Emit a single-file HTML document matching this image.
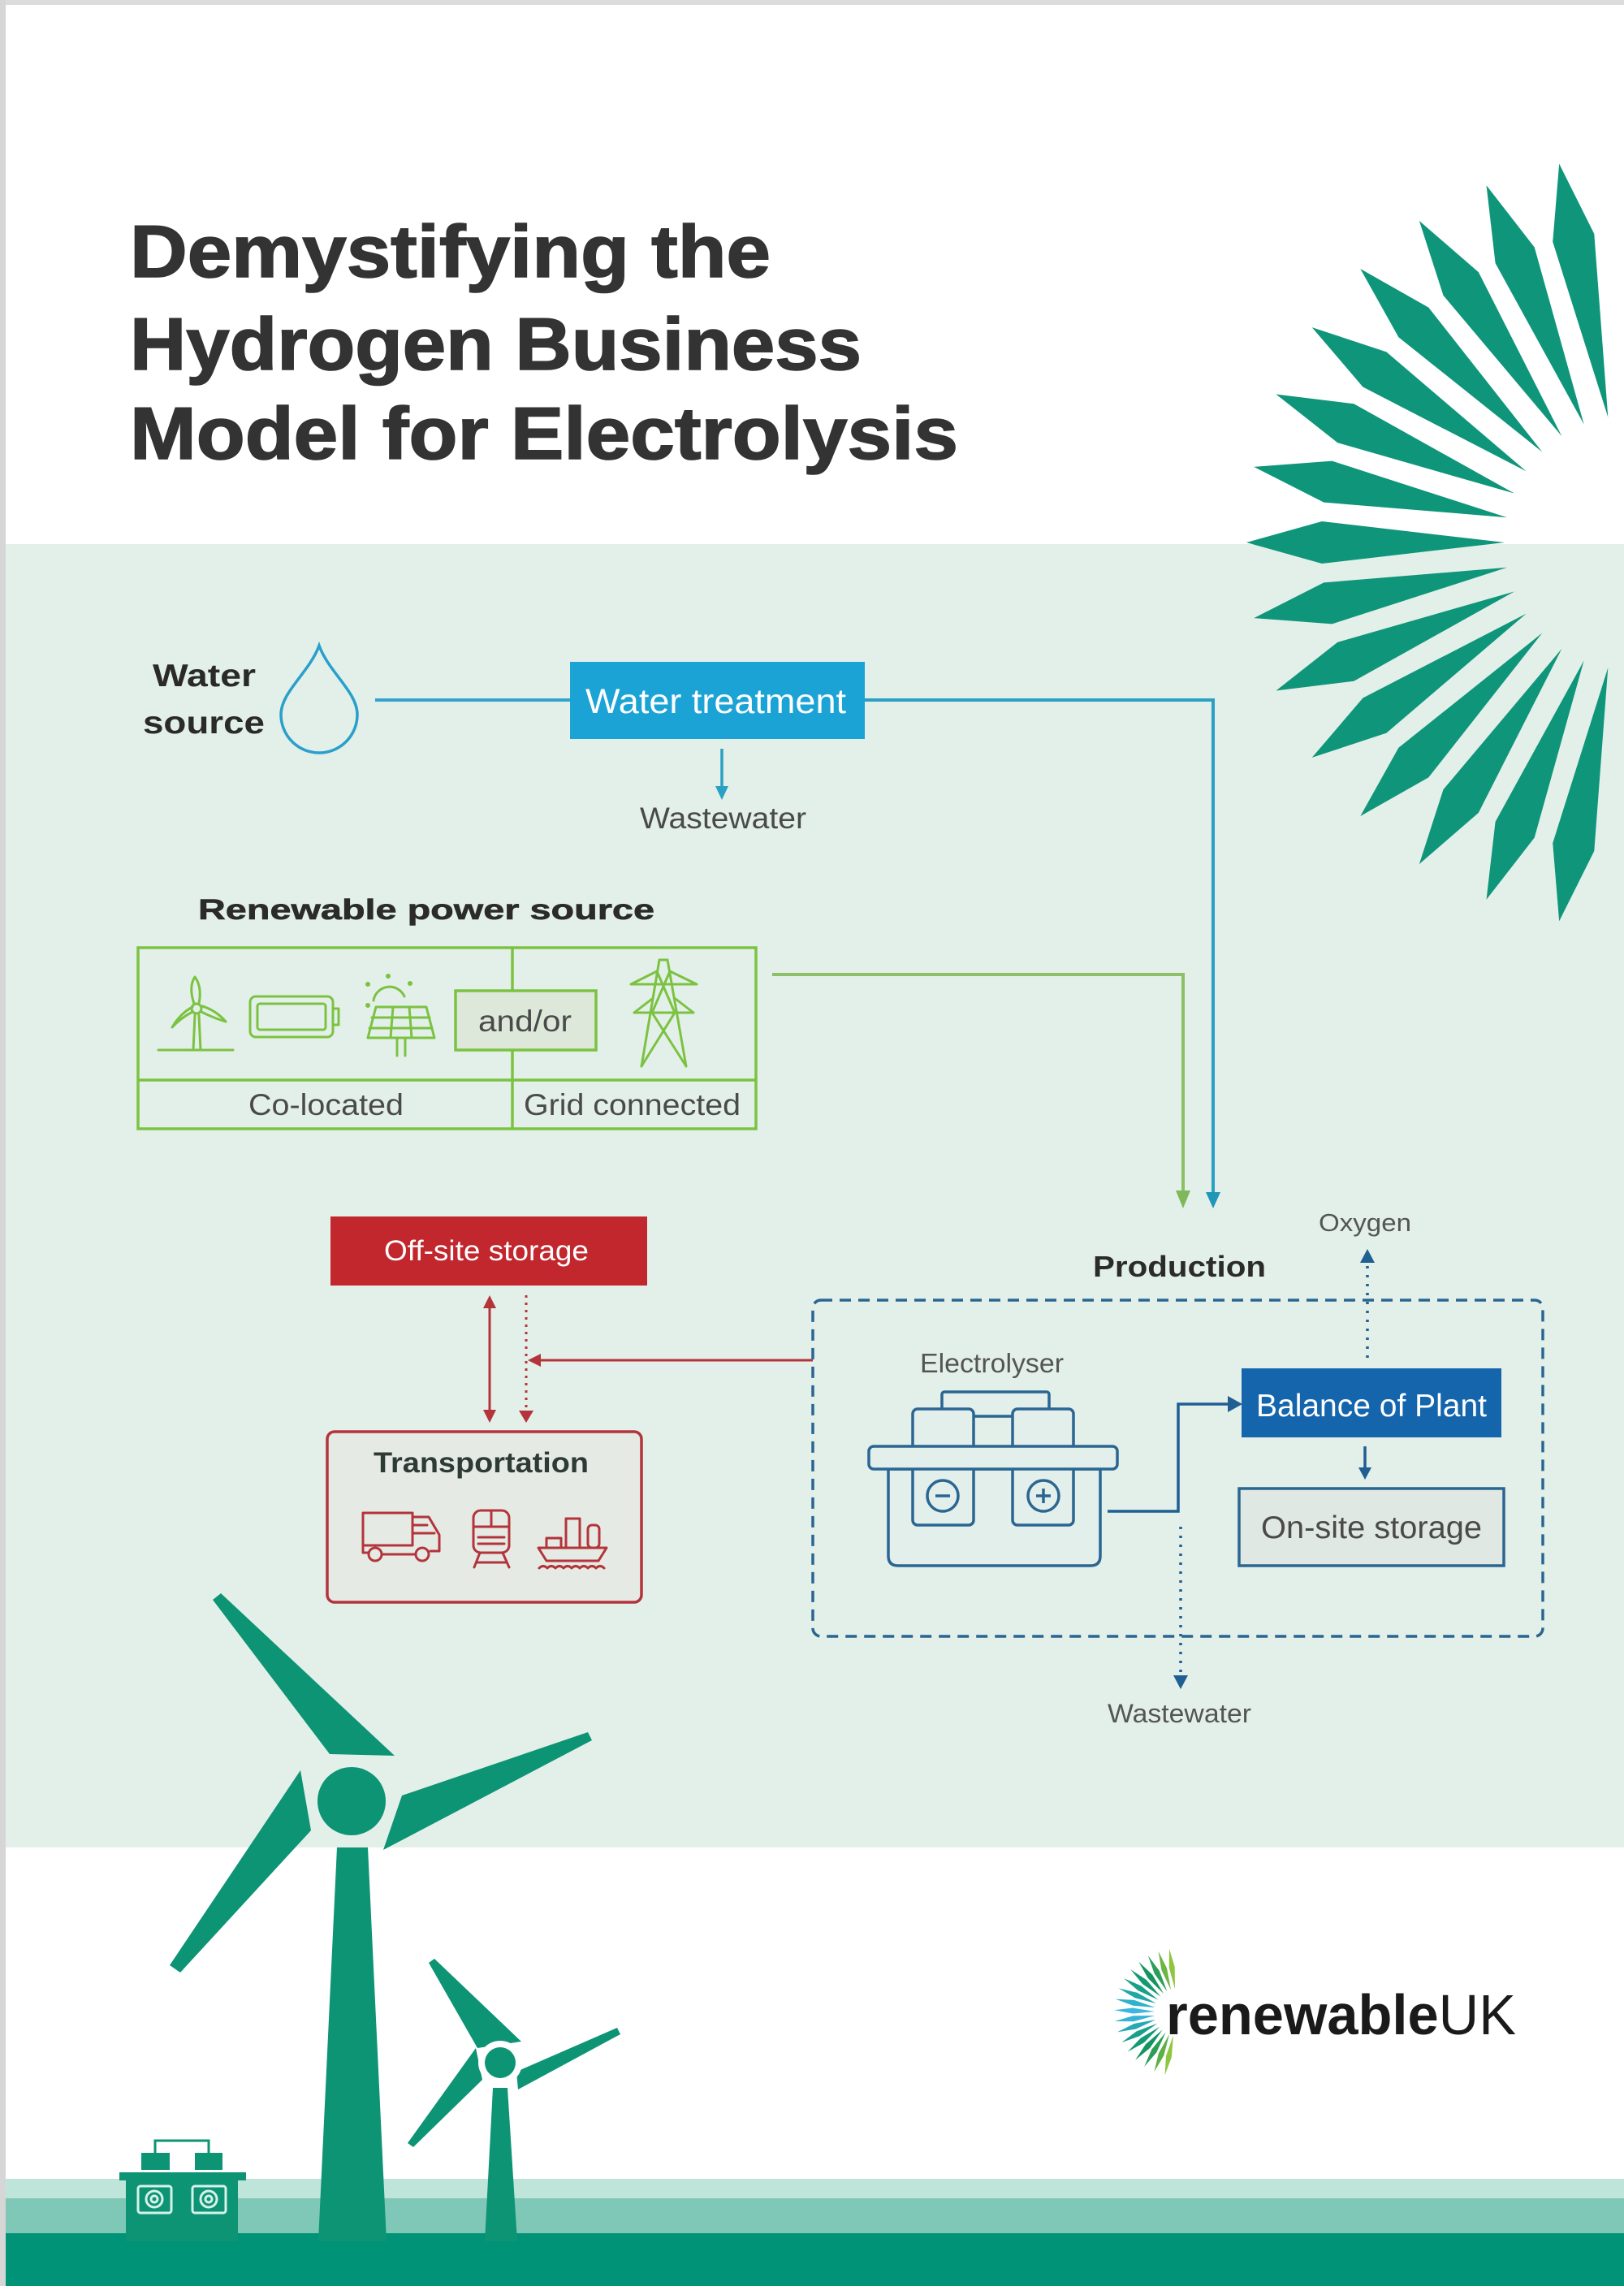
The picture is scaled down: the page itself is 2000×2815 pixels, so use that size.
<!DOCTYPE html>
<html>
<head>
<meta charset="utf-8">
<style>
html,body{margin:0;padding:0;background:#fff;}
body{width:2000px;height:2815px;overflow:hidden;}
svg{display:block;}
text{font-family:"Liberation Sans",Arial,sans-serif;}
</style>
</head>
<body>
<svg width="2000" height="2815" viewBox="0 0 2000 2815" xmlns="http://www.w3.org/2000/svg">
<defs>
  <polygon id="ray" points="1535,668 1628,642 1853,668 1628,694"/>
  <polygon id="lray" points="1372,2478 1395,2474.5 1422,2478 1395,2481.5"/>
</defs>

<!-- backgrounds -->
<rect x="0" y="0" width="2000" height="2815" fill="#ffffff"/>
<rect x="0" y="670" width="2000" height="1605" fill="#e3f0e9"/>
<rect x="0" y="2683" width="2000" height="24" fill="#bfe4da"/>
<rect x="0" y="2707" width="2000" height="43" fill="#7fc7b6"/>
<rect x="0" y="2750" width="2000" height="65" fill="#009377"/>
<rect x="0" y="0" width="2000" height="6" fill="#dcdcdc"/>
<rect x="0" y="0" width="7" height="2815" fill="#d6d6d6"/>

<!-- sunburst -->
<g fill="#0f967a">
  <use href="#ray"/>
  <use href="#ray" transform="rotate(11.3 2010 668)"/>
  <use href="#ray" transform="rotate(22.6 2010 668)"/>
  <use href="#ray" transform="rotate(33.9 2010 668)"/>
  <use href="#ray" transform="rotate(45.2 2010 668)"/>
  <use href="#ray" transform="rotate(56.5 2010 668)"/>
  <use href="#ray" transform="rotate(67.8 2010 668)"/>
  <use href="#ray" transform="rotate(79.1 2010 668)"/>
  <use href="#ray" transform="rotate(-11.3 2010 668)"/>
  <use href="#ray" transform="rotate(-22.6 2010 668)"/>
  <use href="#ray" transform="rotate(-33.9 2010 668)"/>
  <use href="#ray" transform="rotate(-45.2 2010 668)"/>
  <use href="#ray" transform="rotate(-56.5 2010 668)"/>
  <use href="#ray" transform="rotate(-67.8 2010 668)"/>
  <use href="#ray" transform="rotate(-79.1 2010 668)"/>
</g>

<!-- title -->
<g fill="#333333" stroke="#333333" stroke-width="1.6" font-weight="bold" font-size="91">
  <text x="160" y="341" textLength="789" lengthAdjust="spacingAndGlyphs">Demystifying the</text>
  <text x="160" y="455" textLength="901" lengthAdjust="spacingAndGlyphs">Hydrogen Business</text>
  <text x="160" y="565" textLength="1020" lengthAdjust="spacingAndGlyphs">Model for Electrolysis</text>
</g>

<!-- water source -->
<g fill="#2a2a2a" font-weight="bold" font-size="39">
  <text x="188" y="845" textLength="127" lengthAdjust="spacingAndGlyphs">Water</text>
  <text x="176" y="903" textLength="150" lengthAdjust="spacingAndGlyphs">source</text>
</g>
<path d="M393,795 C381,828 346,852 346,880 A47,47 0 0 0 440,880 C440,852 405,828 393,795 Z" fill="none" stroke="#2a9fcb" stroke-width="3.5"/>
<line x1="462" y1="862" x2="702" y2="862" stroke="#33a3cc" stroke-width="4"/>
<rect x="702" y="815" width="363" height="95" fill="#1ba3d6"/>
<text x="721" y="878" font-size="43" fill="#ffffff" textLength="321" lengthAdjust="spacingAndGlyphs">Water treatment</text>
<polyline points="1065,862 1494,862 1494,1474" fill="none" stroke="#2aa0c4" stroke-width="4"/>
<polygon points="1485,1468 1503,1468 1494,1488" fill="#1f97b8"/>
<line x1="889" y1="922" x2="889" y2="972" stroke="#2aa0c4" stroke-width="3.5"/>
<polygon points="881,968 897,968 889,985" fill="#2aa0c4"/>
<text x="788" y="1020" font-size="37" fill="#4a4a4a" textLength="205" lengthAdjust="spacingAndGlyphs">Wastewater</text>

<!-- renewable power source -->
<text x="244" y="1132" font-size="35" font-weight="bold" fill="#2b2b2b" stroke="#2b2b2b" stroke-width="0.6" textLength="562" lengthAdjust="spacingAndGlyphs">Renewable power source</text>
<g fill="none" stroke="#7cc242" stroke-width="3.5">
  <rect x="170" y="1167" width="761" height="223"/>
  <line x1="631" y1="1167" x2="631" y2="1390"/>
  <line x1="170" y1="1330" x2="931" y2="1330"/>
</g>
<rect x="561" y="1220" width="173" height="73" fill="#dde8da" stroke="#7cc242" stroke-width="3.5"/>
<text x="589" y="1270" font-size="37" fill="#4a4a4a" textLength="115" lengthAdjust="spacingAndGlyphs">and/or</text>
<text x="306" y="1373" font-size="37" fill="#4a4a4a" textLength="191" lengthAdjust="spacingAndGlyphs">Co-located</text>
<text x="645" y="1373" font-size="37" fill="#4a4a4a" textLength="267" lengthAdjust="spacingAndGlyphs">Grid connected</text>

<!-- power icons -->
<g fill="none" stroke="#7cc242" stroke-width="3" stroke-linejoin="round" stroke-linecap="round">
  <!-- turbine -->
  <line x1="195" y1="1293" x2="287" y2="1293"/>
  <path d="M238,1293 L240,1250 M247,1293 L245,1250"/>
  <circle cx="242" cy="1242" r="6"/>
  <path d="M239,1236 Q232,1215 240,1203 Q249,1215 245,1236"/>
  <path d="M237,1246 Q222,1254 212,1265 Q222,1248 237,1240"/>
  <path d="M248,1246 Q264,1254 278,1258 Q266,1244 249,1239"/>
  <!-- battery -->
  <rect x="308" y="1227" width="102" height="50" rx="7"/>
  <rect x="317" y="1236" width="84" height="32" rx="3"/>
  <path d="M410,1242 H417 V1262 H410"/>
  <!-- solar -->
  <path d="M460,1232 A20,20 0 0 1 498,1227"/>
  <circle cx="453" cy="1238" r="1.5"/>
  <circle cx="453" cy="1212" r="1.5"/>
  <circle cx="478" cy="1202" r="1.5"/>
  <circle cx="505" cy="1211" r="1.5"/>
  <polygon points="463,1240 525,1240 535,1278 453,1278"/>
  <path d="M458,1253 H529 M455,1266 H532 M484,1240 L481,1278 M504,1240 L507,1278"/>
  <path d="M489,1278 V1300 M499,1278 V1300"/>
  <!-- pylon -->
  <path d="M812,1182 L790,1313 M822,1182 L845,1313 M812,1182 H822"/>
  <path d="M777,1212 H858 M777,1212 L809,1196 M858,1212 L825,1196"/>
  <path d="M781,1247 H854 M781,1247 L803,1230 M854,1247 L832,1230"/>
  <path d="M809,1196 L831,1247 M825,1196 L803,1247 M803,1247 L845,1313 M831,1247 L790,1313"/>
</g>
<polyline points="951,1200 1457,1200 1457,1472" fill="none" stroke="#8dbf68" stroke-width="4"/>
<polygon points="1448,1466 1466,1466 1457,1488" fill="#7fb85a"/>

<!-- off-site storage -->
<rect x="407" y="1498" width="390" height="85" fill="#c1272d"/>
<text x="473" y="1552" font-size="35" fill="#ffffff" textLength="252" lengthAdjust="spacingAndGlyphs">Off-site storage</text>
<g stroke="#b3343b" stroke-width="3">
  <line x1="603" y1="1608" x2="603" y2="1740"/>
  <line x1="648" y1="1595" x2="648" y2="1738" stroke-dasharray="3 6"/>
  <line x1="1001" y1="1675" x2="662" y2="1675"/>
</g>
<g fill="#b3343b">
  <polygon points="595,1611 611,1611 603,1595"/>
  <polygon points="595,1736 611,1736 603,1752"/>
  <polygon points="639,1737 657,1737 648,1752"/>
  <polygon points="666,1667 666,1683 650,1675"/>
</g>
<rect x="403" y="1763" width="387" height="210" rx="9" fill="#e5ebe4" stroke="#b3343b" stroke-width="3.5"/>
<text x="460" y="1813" font-size="35" font-weight="bold" fill="#2e3b35" textLength="265" lengthAdjust="spacingAndGlyphs">Transportation</text>
<g fill="none" stroke="#b3343b" stroke-width="3" stroke-linejoin="round" stroke-linecap="round">
  <!-- truck -->
  <rect x="447" y="1863" width="61" height="40"/>
  <path d="M508,1868 H528 L541,1890 V1910 H530"/>
  <path d="M508,1878 H526 M508,1888 H535"/>
  <path d="M447,1903 V1912 H453"/>
  <circle cx="462" cy="1914" r="8"/>
  <circle cx="520" cy="1914" r="8"/>
  <line x1="471" y1="1914" x2="511" y2="1914"/>
  <!-- train -->
  <rect x="583" y="1860" width="44" height="52" rx="9"/>
  <path d="M583,1880 H627 M605,1860 V1880"/>
  <path d="M589,1893 H621 M589,1901 H621"/>
  <path d="M591,1912 L584,1930 M619,1912 L627,1930 M587,1924 H623"/>
  <!-- ship -->
  <path d="M663,1906 H747 L737,1922 H673 Z"/>
  <rect x="673" y="1894" width="18" height="12"/>
  <path d="M697,1906 V1870 H714 V1906" />
  <rect x="724" y="1878" width="14" height="28" rx="5"/>
  <path d="M664,1931 q5,-5 10,0 q5,-5 10,0 q5,-5 10,0 q5,-5 10,0 q5,-5 10,0 q5,-5 10,0 q5,-5 10,0 q5,-5 10,0"/>
</g>

<!-- production -->
<text x="1346" y="1572" font-size="36" font-weight="bold" fill="#2b2b2b" textLength="213" lengthAdjust="spacingAndGlyphs">Production</text>
<text x="1624" y="1516" font-size="31" fill="#555555" textLength="114" lengthAdjust="spacingAndGlyphs">Oxygen</text>
<line x1="1684" y1="1672" x2="1684" y2="1556" stroke="#1f5f92" stroke-width="3.5" stroke-dasharray="3 8"/>
<polygon points="1675,1555 1693,1555 1684,1538" fill="#1f5f92"/>
<rect x="1001" y="1601" width="899" height="414" rx="10" fill="none" stroke="#2a6592" stroke-width="3.5" stroke-dasharray="14 9"/>
<text x="1133" y="1690" font-size="33" fill="#555555" textLength="177" lengthAdjust="spacingAndGlyphs">Electrolyser</text>

<g stroke="#2b6693" stroke-width="3.5" fill="#e3efea" stroke-linejoin="round">
  <rect x="1160" y="1714" width="132" height="30" rx="3"/>
  <path d="M1094,1809 V1916 Q1094,1928 1106,1928 H1343 Q1355,1928 1355,1916 V1809 Z"/>
  <rect x="1124" y="1735" width="75" height="143" rx="6"/>
  <rect x="1247" y="1735" width="75" height="143" rx="6"/>
  <rect x="1070" y="1781" width="306" height="28" rx="6"/>
  <circle cx="1161" cy="1842" r="19"/>
  <circle cx="1285" cy="1842" r="19"/>
  <path d="M1152,1842 H1170 M1276,1842 H1294 M1285,1833 V1851" fill="none"/>
</g>
<polyline points="1364,1861 1451,1861 1451,1729 1514,1729" fill="none" stroke="#1f5f92" stroke-width="3.5"/>
<polygon points="1512,1719 1512,1739 1530,1729" fill="#1f5f92"/>
<rect x="1529" y="1685" width="320" height="85" fill="#1565ad"/>
<text x="1547" y="1744" font-size="39" fill="#ffffff" textLength="284" lengthAdjust="spacingAndGlyphs">Balance of Plant</text>
<line x1="1681" y1="1781" x2="1681" y2="1810" stroke="#1f5f92" stroke-width="3.5"/>
<polygon points="1673,1807 1689,1807 1681,1822" fill="#1f5f92"/>
<rect x="1526" y="1833" width="326" height="95" fill="#dfe8e3" stroke="#2b6693" stroke-width="3.5"/>
<text x="1553" y="1894" font-size="39" fill="#4a4a4a" textLength="272" lengthAdjust="spacingAndGlyphs">On-site storage</text>
<line x1="1454" y1="1880" x2="1454" y2="2062" stroke="#1f5f92" stroke-width="3.5" stroke-dasharray="3 8"/>
<polygon points="1445,2063 1463,2063 1454,2080" fill="#1f5f92"/>
<text x="1364" y="2121" font-size="32" fill="#555555" textLength="177" lengthAdjust="spacingAndGlyphs">Wastewater</text>

<!-- big turbines -->
<g fill="#0d9474">
  <polygon points="415,2275 453,2275 476,2760 392,2760"/>
  <polygon points="262,1970 272,1962 486,2162 406,2160"/>
  <polygon points="495,2211 724,2133 729,2143 472,2278"/>
  <polygon points="370,2180 383,2254 222,2429 209,2420"/>
  <circle cx="433" cy="2218" r="53" fill="#e3f0e9"/>
  <circle cx="433" cy="2218" r="42"/>

  <polygon points="607,2571 625,2571 637,2760 597,2760"/>
  <polygon points="528,2417 535,2412 642,2514 588,2522"/>
  <polygon points="636,2551 760,2497 764,2505 638,2573"/>
  <polygon points="586,2522 594,2561 509,2644 502,2639"/>
  <circle cx="616" cy="2540" r="27" fill="#ffffff"/>
  <circle cx="616" cy="2540" r="19"/>

  <!-- battery icon -->
  <rect x="174" y="2651" width="35" height="21"/>
  <rect x="240" y="2651" width="34" height="21"/>
  <rect x="147" y="2675" width="156" height="10"/>
  <rect x="155" y="2685" width="138" height="75"/>
</g>
<path d="M191,2651 V2636 H257 V2651" fill="none" stroke="#0d9474" stroke-width="3"/>
<g fill="none" stroke="#d8f1ea" stroke-width="3">
  <rect x="170" y="2692" width="41" height="33" rx="3"/>
  <rect x="237" y="2692" width="41" height="33" rx="3"/>
  <circle cx="190" cy="2708" r="10"/>
  <circle cx="257" cy="2708" r="10"/>
  <circle cx="190" cy="2708" r="4"/>
  <circle cx="257" cy="2708" r="4"/>
</g>

<!-- logo -->
<g>
  <use href="#lray" fill="#8dc63f" transform="rotate(82 1451 2478)"/>
  <use href="#lray" fill="#6cb544" transform="rotate(72 1451 2478)"/>
  <use href="#lray" fill="#2a9e5a" transform="rotate(62 1451 2478)"/>
  <use href="#lray" fill="#14955f" transform="rotate(52 1451 2478)"/>
  <use href="#lray" fill="#139a72" transform="rotate(42 1451 2478)"/>
  <use href="#lray" fill="#17a08a" transform="rotate(32 1451 2478)"/>
  <use href="#lray" fill="#20a7a6" transform="rotate(22 1451 2478)"/>
  <use href="#lray" fill="#2eb1cc" transform="rotate(12 1451 2478)"/>
  <use href="#lray" fill="#3ab7e0" transform="rotate(2 1451 2478)"/>
  <use href="#lray" fill="#35b4d6" transform="rotate(-8 1451 2478)"/>
  <use href="#lray" fill="#26aab2" transform="rotate(-18 1451 2478)"/>
  <use href="#lray" fill="#18a08e" transform="rotate(-28 1451 2478)"/>
  <use href="#lray" fill="#129a74" transform="rotate(-38 1451 2478)"/>
  <use href="#lray" fill="#14955f" transform="rotate(-48 1451 2478)"/>
  <use href="#lray" fill="#2a9e52" transform="rotate(-58 1451 2478)"/>
  <use href="#lray" fill="#5cb046" transform="rotate(-68 1451 2478)"/>
  <use href="#lray" fill="#8dc63f" transform="rotate(-78 1451 2478)"/>
</g>
<text x="1436" y="2505" font-size="70" fill="#1a1a1a" textLength="431" lengthAdjust="spacingAndGlyphs"><tspan font-weight="bold">renewable</tspan><tspan>UK</tspan></text>
</svg>
</body>
</html>
